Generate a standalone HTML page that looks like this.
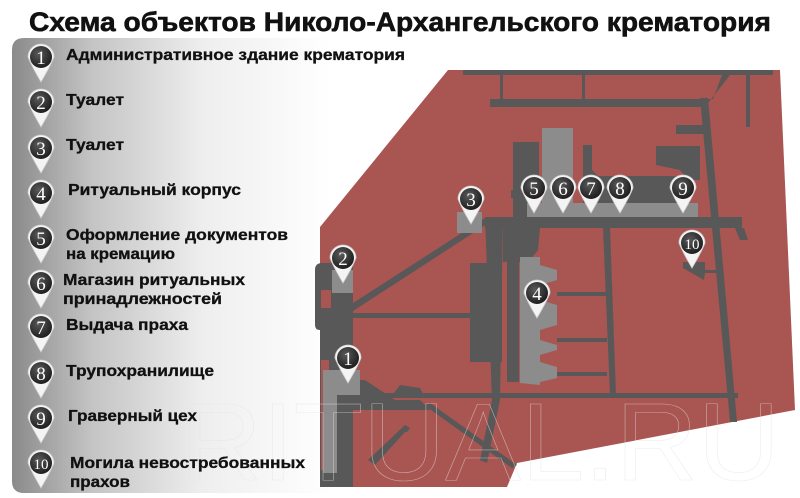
<!DOCTYPE html>
<html><head><meta charset="utf-8">
<style>
html,body{margin:0;padding:0;background:#fff;width:800px;height:498px;overflow:hidden}
svg{display:block}
</style></head><body>
<svg width="800" height="498" viewBox="0 0 800 498" xmlns="http://www.w3.org/2000/svg">
<defs>
<linearGradient id="lg" x1="0" y1="0" x2="1" y2="0">
<stop offset="0" stop-color="#8a8a8a"/><stop offset="0.25" stop-color="#c4c4c4"/><stop offset="0.6" stop-color="#eeeeee"/><stop offset="1" stop-color="#ffffff"/>
</linearGradient>
<radialGradient id="pg" cx="0.4" cy="0.35" r="0.7">
<stop offset="0" stop-color="#5a5a5a"/><stop offset="1" stop-color="#1a1a1a"/>
</radialGradient>
<g id="pin">
<path d="M-13,0 A13,13 0 1 1 13,0 Q10,8 0,25 Q-10,8 -13,0 Z" fill="#f4f4f4" stroke="#cfcfcf" stroke-width="0.8"/>
<circle r="11" fill="url(#pg)"/>
</g>
</defs>

<text x="400" y="31" text-anchor="middle" font-family="Liberation Sans, sans-serif" font-weight="bold" font-size="27" fill="#111" stroke="#111" stroke-width="0.6" textLength="742" lengthAdjust="spacingAndGlyphs">Схема объектов Николо-Архангельского крематория</text>

<path d="M24,38 H330 V493 H24 Q12,493 12,481 V50 Q12,38 24,38 Z" fill="url(#lg)"/>

<polygon points="448,70 780,70 795,410 517,463 507,487 320,487 320,227" fill="#a95552"/>
<g fill="#585858">
<rect x="463" y="70" width="310" height="5"/>
<rect x="490" y="99" width="215" height="8"/>
<rect x="500" y="74" width="3" height="26"/>
<rect x="582" y="74" width="3" height="26"/>
<rect x="746" y="73" width="4" height="54"/>
<polygon points="695,99 713,99 722,75 730,75 705,107"/>
<polygon points="700,98 708,98 737,422 730,422"/>
<rect x="676" y="125" width="30" height="9"/>
<polygon points="656,146 700,146 700,180 688,180 680,170 656,165"/>
<rect x="513" y="142" width="26" height="75"/>
<rect x="511" y="190" width="10" height="8"/>
<polygon points="583,145 592,145 592,170 598,176 690,176 690,203 583,203"/>
<rect x="485" y="217" width="257" height="11"/>
<polygon points="735,228 744,228 748,240 740,240"/>
<polygon points="485,217 503,217 500,400 487,463 480,460 492,400"/>
<polygon points="503,228 540,228 538,250 530,260 520,262 503,262"/>
<polygon points="603,228 610,228 616,395 610,395"/>
<rect x="470" y="263" width="32" height="99"/>
<rect x="507" y="262" width="12" height="120"/>
<polygon points="353,303 485,218 487,224 353,311"/>
<rect x="353" y="313" width="120" height="5"/>
<rect x="557" y="292" width="50" height="4"/>
<rect x="557" y="338" width="50" height="4"/>
<rect x="557" y="372" width="50" height="4"/>
<rect x="353" y="393" width="385" height="5"/>
<path d="M322,263 H353 V487 H320 V330 Q315,330 315,325 V270 Q315,263 322,263 Z"/>
<polygon points="353,380 365,380 395,400 420,400 430,410 353,410"/>
<polygon points="424,405 430,403 517,465 512,468"/>
<polygon points="405,425 410,428 407,432 405,432 375,465 368,460"/>
<polygon points="400,385 420,388 425,398 390,398"/>
<polygon points="683,262 705,262 705,270 717,270 717,273 705,273 704,280 683,268"/>
</g>
<rect x="321" y="290" width="10" height="18" fill="#a95552"/>
<rect x="321" y="360" width="8" height="110" fill="#a95552"/>
<g fill="#8c8c8c">
<rect x="542" y="128" width="31" height="89"/>
<rect x="527" y="203" width="171" height="14"/>
<rect x="457" y="212" width="25" height="21"/>
<rect x="332" y="270" width="21" height="23"/>
<polygon points="323,370 360,370 360,395 337,395 337,473 323,473"/>
<polygon points="520,257 540,257 540,265 557,270 557,280 540,285 540,300 557,305 557,325 540,330 540,340 557,345 557,350 540,355 540,362 557,367 557,378 540,382 540,385 520,383"/>
</g>

<text x="180" y="480" font-family="Liberation Sans, sans-serif" font-size="110" fill="none" stroke="#e2e2e2" stroke-width="0.6" textLength="600" lengthAdjust="spacingAndGlyphs" opacity="0.6">RITUAL.RU</text>

<g font-family="Liberation Serif, serif" font-size="19" fill="#fff" text-anchor="middle">
<use href="#pin" x="348" y="358"/><text x="348" y="365">1</text>
<use href="#pin" x="343" y="258"/><text x="343" y="265">2</text>
<use href="#pin" x="471" y="199"/><text x="471" y="206">3</text>
<use href="#pin" x="537" y="293"/><text x="537" y="300">4</text>
<use href="#pin" x="534" y="188"/><text x="534" y="195">5</text>
<use href="#pin" x="563" y="188"/><text x="563" y="195">6</text>
<use href="#pin" x="591" y="188"/><text x="591" y="195">7</text>
<use href="#pin" x="620" y="188"/><text x="620" y="195">8</text>
<use href="#pin" x="683" y="188"/><text x="683" y="195">9</text>
<use href="#pin" x="692" y="243"/><text x="692" y="249" font-size="15">10</text>
</g>

<g font-family="Liberation Serif, serif" font-size="19" fill="#fff" text-anchor="middle">
<use href="#pin" x="41" y="57"/><text x="41" y="64">1</text>
<use href="#pin" x="41" y="102"/><text x="41" y="109">2</text>
<use href="#pin" x="41" y="148"/><text x="41" y="155">3</text>
<use href="#pin" x="41" y="193"/><text x="41" y="200">4</text>
<use href="#pin" x="41" y="238"/><text x="41" y="245">5</text>
<use href="#pin" x="41" y="283"/><text x="41" y="290">6</text>
<use href="#pin" x="41" y="327"/><text x="41" y="334">7</text>
<use href="#pin" x="41" y="373"/><text x="41" y="380">8</text>
<use href="#pin" x="41" y="418"/><text x="41" y="425">9</text>
<use href="#pin" x="41" y="463"/><text x="41" y="469" font-size="15">10</text>
</g>

<g font-family="Liberation Sans, sans-serif" font-weight="bold" font-size="15.5" fill="#111" stroke="#111" stroke-width="0.3" lengthAdjust="spacingAndGlyphs">
<text x="66" y="60" textLength="339" lengthAdjust="spacingAndGlyphs">Административное здание крематория</text>
<text x="66" y="105" textLength="58" lengthAdjust="spacingAndGlyphs">Туалет</text>
<text x="66" y="150" textLength="58" lengthAdjust="spacingAndGlyphs">Туалет</text>
<text x="68" y="195" textLength="173" lengthAdjust="spacingAndGlyphs">Ритуальный корпус</text>
<text x="66" y="240" textLength="222" lengthAdjust="spacingAndGlyphs">Оформление документов</text>
<text x="66" y="259" textLength="109" lengthAdjust="spacingAndGlyphs">на кремацию</text>
<text x="63" y="285" textLength="182" lengthAdjust="spacingAndGlyphs">Магазин ритуальных</text>
<text x="63" y="304" textLength="159" lengthAdjust="spacingAndGlyphs">принадлежностей</text>
<text x="66" y="330" textLength="122" lengthAdjust="spacingAndGlyphs">Выдача праха</text>
<text x="66" y="376" textLength="148" lengthAdjust="spacingAndGlyphs">Трупохранилище</text>
<text x="68" y="421" textLength="129" lengthAdjust="spacingAndGlyphs">Граверный цех</text>
<text x="70" y="468" textLength="235" lengthAdjust="spacingAndGlyphs">Могила невостребованных</text>
<text x="70" y="487" textLength="60" lengthAdjust="spacingAndGlyphs">прахов</text>
</g>
</svg>
</body></html>
